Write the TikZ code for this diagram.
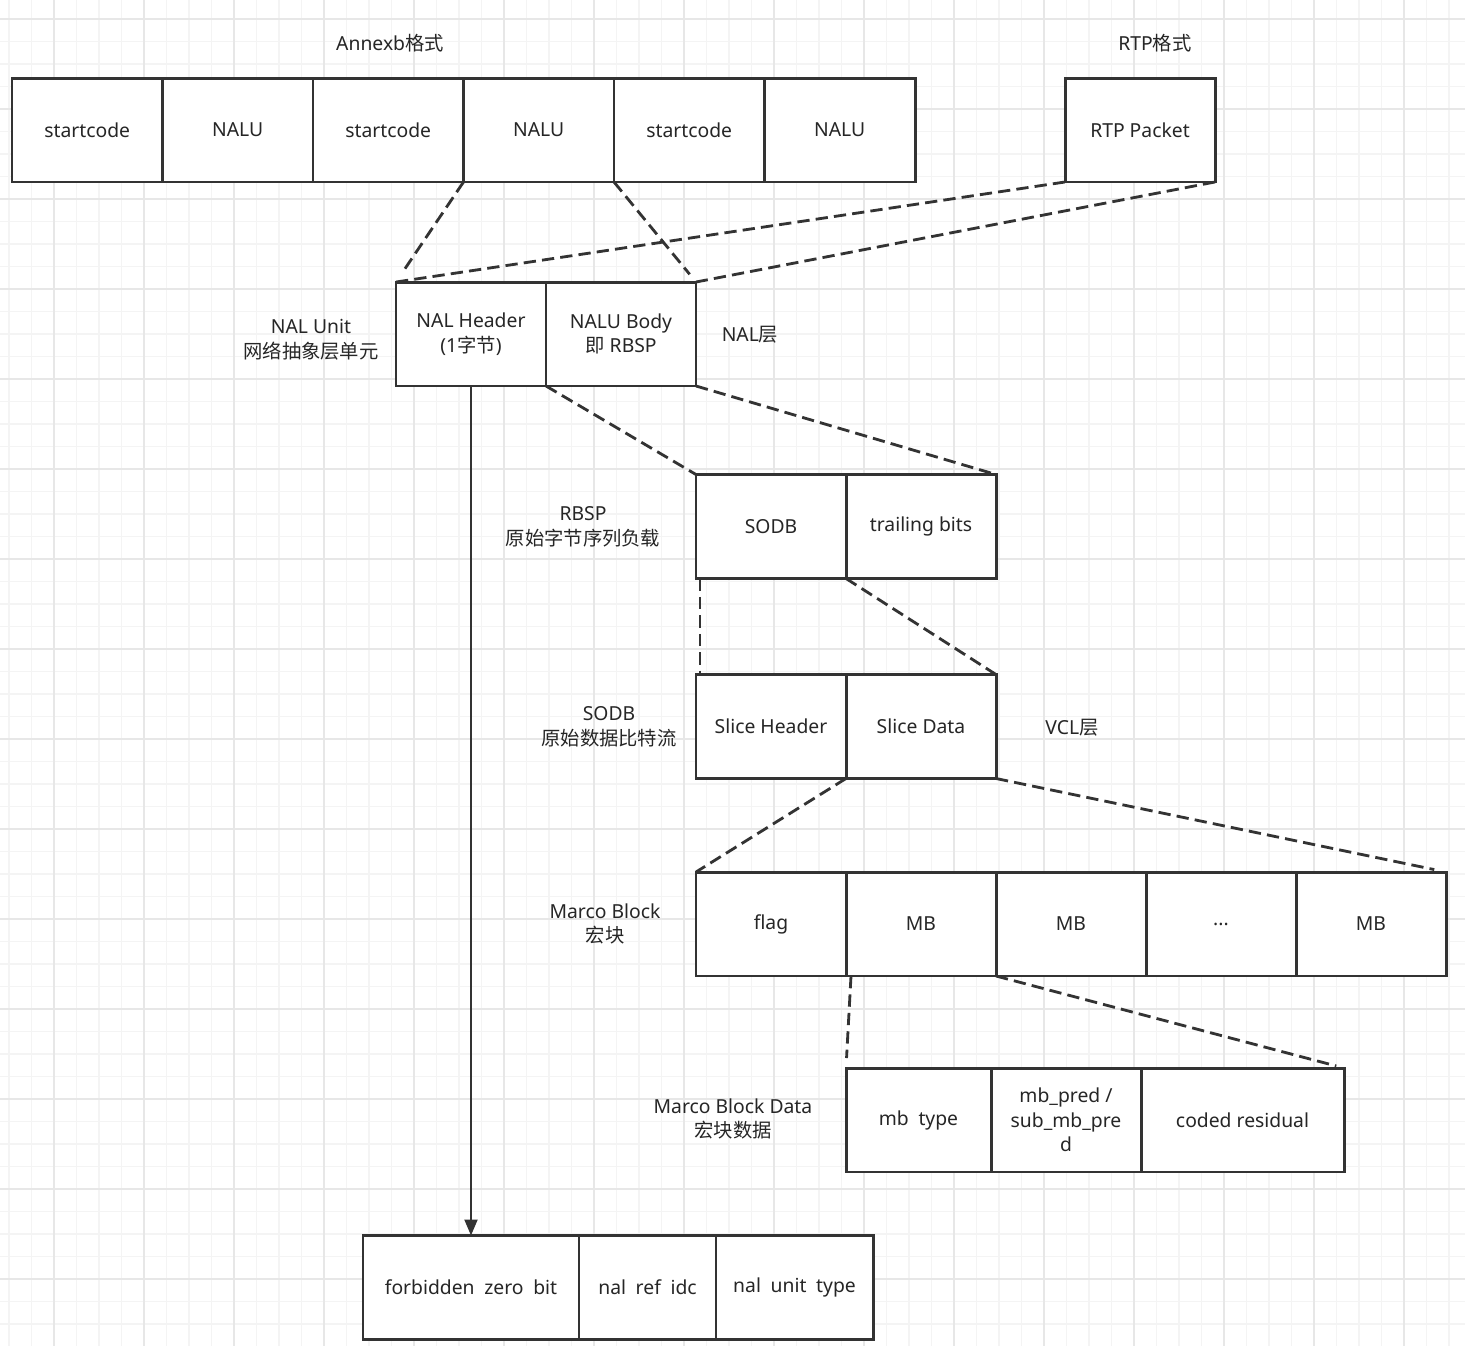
\documentclass[tikz,border=0pt]{standalone}
\usepackage{fontspec}
\setmainfont{Noto Sans}
\newfontfamily\zhfont{Noto Sans CJK SC}
\newcommand{\zh}[1]{{\zhfont #1}}
\usepackage{xcolor}
\usetikzlibrary{arrows.meta,positioning}

\definecolor{lineGray}{RGB}{51,51,51}
\definecolor{gridMinor}{RGB}{244,244,244}
\definecolor{gridMajor}{RGB}{231,231,231}

\begin{document}
\begin{tikzpicture}[
	x=0.02cm, y=-0.02cm,
	% one field of a layer
	cellBox/.style={
		draw=lineGray,
		line width=1.7pt,
		fill=white,
		minimum width=#1*0.02cm,
		minimum height=2.08cm,
		inner sep=1pt,
		outer sep=0pt,
		align=center,
		text=black!85,
		font=\fontsize{11}{14}\selectfont
	},
	cellBox/.default=150,
	% names of the layers
	sideLabel/.style={
		align=center,
		inner sep=0pt,
		text=black!85,
		font=\fontsize{11}{14}\selectfont
	},
	dashLink/.style={
		draw=lineGray,
		line width=1.6pt,
		dash pattern=on 7pt off 3.5pt
	},
	fieldArrow/.style={
		-{Triangle[length=0.32cm,width=0.26cm]},
		draw=lineGray,
		line width=1.2pt
	},
	gridLine/.style={
		line width=0.6pt
	}
	]
	
	\useasboundingbox (0,0) rectangle (1465,1346);
	
	% Background grid
	\begin{scope}
		\clip (0,0) rectangle (1465,1346);
		\fill[white] (0,0) rectangle (1465,1346);
		\foreach \k in {0,...,65}
		\draw[gridLine, gridMinor] ({9+22.5*\k},0) -- ++(0,1346);
		\foreach \k in {0,...,60}
		\draw[gridLine, gridMinor] (0,{19+22.5*\k}) -- ++(1465,0);
		\foreach \k in {0,...,16}
		\draw[gridLine, gridMajor] ({54+90*\k},0) -- ++(0,1346);
		\foreach \k in {0,...,15}
		\draw[gridLine, gridMajor] (0,{19+90*\k}) -- ++(1465,0);
	\end{scope}
	
	% Annex B byte stream
	\node[sideLabel] (lblAnnexb) at (390,43) {Annexb\zh{格式}};
	\node[cellBox=150.5] (sc1) at (87.25,130) {startcode};
	\node[cellBox=150.5, right=0pt of sc1] (nalu1) {NALU};
	\node[cellBox=150.5, right=0pt of nalu1] (sc2) {startcode};
	\node[cellBox=150.5, right=0pt of sc2] (nalu2) {NALU};
	\node[cellBox=150.5, right=0pt of nalu2] (sc3) {startcode};
	\node[cellBox=150.5, right=0pt of sc3] (nalu3) {NALU};
	
	% RTP
	\node[sideLabel] (lblRtp) at (1155,43) {RTP\zh{格式}};
	\node[cellBox] (rtp) at (1140,130) {RTP Packet};
	
	% NAL unit
	\node[sideLabel] (lblNal) at (311,340) {NAL Unit\\\zh{网络抽象层单元}};
	\node[cellBox] (nalHdr) at (471,334) {NAL Header\\(1\zh{字节})};
	\node[cellBox, right=0pt of nalHdr] (nalBody) {NALU Body\\\zh{即} RBSP};
	\node[sideLabel] (lblNalLayer) at (750,335) {NAL\zh{层}};
	
	% RBSP
	\node[sideLabel] (lblRbsp) at (583,527) {RBSP\\\zh{原始字节序列负载}};
	\node[cellBox] (sodb) at (771,526.5) {SODB};
	\node[cellBox, right=0pt of sodb] (trail) {trailing bits};
	
	% SODB
	\node[sideLabel] (lblSodb) at (609,727) {SODB\\\zh{原始数据比特流}};
	\node[cellBox] (sliceHdr) at (771,726.5) {Slice Header};
	\node[cellBox, right=0pt of sliceHdr] (sliceData) {Slice Data};
	\node[sideLabel] (lblVcl) at (1072,728) {VCL\zh{层}};
	
	% Macroblocks
	\node[sideLabel] (lblMb) at (605,924) {Marco Block\\\zh{宏块}};
	\node[cellBox] (flag) at (771,924) {flag};
	\node[cellBox, right=0pt of flag] (mbA) {MB};
	\node[cellBox, right=0pt of mbA] (mbB) {MB};
	\node[cellBox, right=0pt of mbB] (mbDots) {...};
	\node[cellBox, right=0pt of mbDots] (mbC) {MB};
	
	% Macroblock data
	\node[sideLabel] (lblMbData) at (733,1119) {Marco Block Data\\\zh{宏块数据}};
	\node[cellBox=145] (mbType) at (918.5,1120) {mb\enspace type};
	\node[cellBox, right=0pt of mbType] (mbPred) {mb\_pred /\\sub\_mb\_pre\\d};
	\node[cellBox=203, right=0pt of mbPred] (resid) {coded residual};
	
	% NAL header fields
	\node[cellBox=216] (fzb) at (471,1287.5) {forbidden\enspace zero\enspace bit};
	\node[cellBox=137, right=0pt of fzb] (nri) {nal\enspace ref\enspace idc};
	\node[cellBox=157, right=0pt of nri] (nut) {nal\enspace unit\enspace type};
	
	% Expansion links
	\draw[dashLink, shorten >=0.2cm] (nalu2.south west) -- (nalHdr.north west);
	\draw[dashLink, shorten >=0.2cm] (nalu2.south east) -- (nalBody.north east);
	\draw[dashLink] (rtp.south west) -- (nalHdr.north west);
	\draw[dashLink] (rtp.south east) -- (nalBody.north east);
	\draw[dashLink] (nalBody.south west) -- (sodb.north west);
	\draw[dashLink] (nalBody.south east) -- (trail.north east);
	\draw[dashLink] ([xshift=0.08cm]sodb.south west) -- ([xshift=0.08cm]sliceHdr.north west);
	\draw[dashLink] (sodb.south east) -- (sliceData.north east);
	\draw[dashLink] (sliceData.south west) -- (flag.north west);
	\draw[dashLink, shorten >=0.24cm] (sliceData.south east) -- (mbC.north east);
	\draw[dashLink, shorten >=0.2cm] ([xshift=0.1cm]mbA.south west) -- (mbType.north west);
	\draw[dashLink, shorten >=0.16cm] (mbA.south east) -- (resid.north east);
	
	% Header bits
	\draw[fieldArrow] (nalHdr.south) -- (fzb.north);
	
\end{tikzpicture}
\end{document}
